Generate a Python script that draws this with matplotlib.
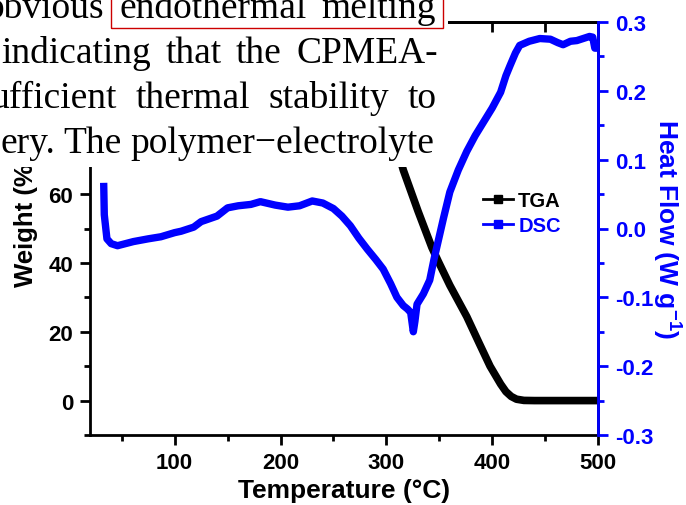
import numpy as np
import matplotlib
matplotlib.use("Agg")
import matplotlib.pyplot as plt
from matplotlib.lines import Line2D
from matplotlib.patches import Rectangle

# TGA: weight (%) vs temperature (deg C)
tga_temp = [20, 100, 200, 250, 270, 280, 295, 305, 316, 330, 343, 349, 360, 376,
            388, 398, 408, 413, 418, 423, 430, 440, 500]
tga_weight = [100, 100, 99.5, 98.5, 97, 95.5, 88, 79, 67, 55, 44.5, 40.5, 33.5, 24.4,
              16.5, 10, 4.8, 2.6, 1.2, 0.4, 0.05, 0, 0]

# DSC: heat flow (W/g) vs temperature (deg C)
dsc_temp = [33, 33.5, 36, 40, 46, 61, 75, 87, 100, 106, 118, 125, 140, 150, 160, 172,
            181, 195, 207, 218, 230, 240, 250, 258, 266, 274, 282, 290, 297, 304, 310,
            316, 320, 323, 325.5, 327, 329, 335, 341, 345, 348, 354, 360, 368, 376, 384,
            392, 400, 408, 413, 417, 422, 426, 435, 445, 455, 462, 467, 474, 480, 486,
            492, 495, 497, 500]
dsc_flow = [0.061, 0.02, -0.015, -0.022, -0.025, -0.019, -0.015, -0.012, -0.006, -0.004,
            0.002, 0.010, 0.018, 0.030, 0.033, 0.035, 0.039, 0.034, 0.031, 0.033, 0.040,
            0.037, 0.029, 0.018, 0.004, -0.014, -0.030, -0.045, -0.059, -0.080, -0.100,
            -0.112, -0.117, -0.122, -0.150, -0.135, -0.110, -0.095, -0.075, -0.045,
            -0.025, 0.015, 0.053, 0.085, 0.112, 0.135, 0.155, 0.175, 0.198, 0.222,
            0.237, 0.255, 0.266, 0.272, 0.276, 0.275, 0.270, 0.267, 0.272, 0.273,
            0.276, 0.279, 0.278, 0.262, 0.262]

# overlapping page text (justified lines)
text_lines = [
    ["obvious", "endothermal", "melting"],
    ["indicating", "that", "the", "CPMEA-"],
    ["ufficient", "thermal", "stability", "to"],
    ["ery.", "The", "polymer\u2212electrolyte"],
]
line_left = [-14, 1, -10, 0]
line_right = [436, 438, 437, 434]
line_base = [18, 63, 108, 153]

plt.rcParams['font.family'] = ['Liberation Sans', 'DejaVu Sans']
plt.rcParams['font.weight'] = 'bold'
plt.rcParams['axes.labelweight'] = 'bold'
plt.rcParams['mathtext.fontset'] = 'custom'
plt.rcParams['mathtext.rm'] = 'Liberation Sans:bold'
plt.rcParams['mathtext.it'] = 'Liberation Sans:bold'
plt.rcParams['mathtext.default'] = 'rm'

W, H = 686, 506
fig = plt.figure(figsize=(W / 100, H / 100), dpi=100)
ax = fig.add_axes((90 / W, 70 / H, 508 / W, 413 / H))
ax2 = ax.twinx()

blue = '#0000ff'
ax.plot(tga_temp, tga_weight, color='black', lw=5.5, solid_capstyle='butt')
ax2.plot(dsc_temp, dsc_flow, color=blue, lw=5.3, solid_joinstyle='round')

ax.set_xlim(20, 500)
ax.set_ylim(-10, 110)
ax2.set_ylim(-0.3, 0.3)
ax.set_xticks([100, 200, 300, 400, 500])
ax.set_xticks(np.arange(50, 500, 100), minor=True)
ax.set_yticks(np.arange(0, 101, 20))
ax.set_yticks(np.arange(-10, 110, 20), minor=True)
ax2.set_yticks([-0.3, -0.2, -0.1, 0.0, 0.1, 0.2, 0.3])
ax2.set_yticks(np.arange(-0.25, 0.3, 0.1), minor=True)
ax2.set_yticklabels(['-0.3', '-0.2', '-0.1', '0.0', '0.1', '0.2', '0.3'])

for s in ax.spines.values():
    s.set_linewidth(2)
ax2.spines['right'].set_linewidth(2)
ax2.spines['right'].set_color(blue)
for s in ['left', 'top', 'bottom']:
    ax2.spines[s].set_visible(False)

ax.tick_params(which='major', length=7, width=2, labelsize=16, pad=5)
ax.tick_params(which='minor', length=4, width=2)
ax2.tick_params(which='major', length=7, width=2, labelsize=16, pad=5,
                colors=blue)
ax2.tick_params(which='minor', length=4, width=2, colors=blue)

top = ax.secondary_xaxis('top')
top.set_xticks([100, 200, 300, 400, 500])
top.set_xticks(np.arange(50, 500, 100), minor=True)
top.tick_params(which='both', direction='in', length=7, width=2, labeltop=False)
top.spines['top'].set_linewidth(2)

ax.set_xlabel('Temperature (\u00b0C)', fontsize=19, labelpad=4)
ax.set_ylabel('Weight (%)', fontsize=18.5, labelpad=-1.5)
ax.yaxis.label.set_y(0.52)
ax2.set_ylabel('Heat Flow (W g$^{-1}$)', fontsize=19, color=blue,
               rotation=270, va='bottom', labelpad=-2)

handles = [Line2D([], [], color='black', lw=2, marker='s', ms=6),
           Line2D([], [], color=blue, lw=2, marker='s', ms=6)]
leg = ax2.legend(handles, ['TGA', 'DSC'], loc='center left',
                 bbox_to_anchor=((483 - 90) / 508, (436 - 214) / 413),
                 frameon=False, fontsize=14.5, handlelength=1.5,
                 handletextpad=0.25, labelspacing=0.3, borderpad=0,
                 borderaxespad=0)
for t, c in zip(leg.get_texts(), ['black', blue]):
    t.set_color(c)

# white patch of the page text lying over the chart
fig.patches.append(Rectangle((0, 1 - 168 / H), 448 / W, 168 / H,
                             transform=fig.transFigure, facecolor='white',
                             edgecolor='none', zorder=5))

fig.canvas.draw()
renderer = fig.canvas.get_renderer()
for words, x0, x1, base in zip(text_lines, line_left, line_right, line_base):
    objs = [fig.text(0, 1 - base / H, w, fontsize=27, fontweight='normal',
                     family=['Liberation Serif', 'DejaVu Serif'],
                     va='baseline', ha='left', zorder=6) for w in words]
    widths = [o.get_window_extent(renderer).width for o in objs]
    gap = (x1 - x0 - sum(widths)) / (len(words) - 1)
    x = x0
    for o, wd in zip(objs, widths):
        o.set_x(x / W)
        x += wd + gap

# red box around "endothermal melting"
fig.patches.append(Rectangle((111 / W, 1 - 29 / H), 332 / W, 31 / H,
                             transform=fig.transFigure, facecolor='none',
                             edgecolor='#cc0000', lw=1.0, zorder=7))

fig.savefig('out.png', dpi=100)
